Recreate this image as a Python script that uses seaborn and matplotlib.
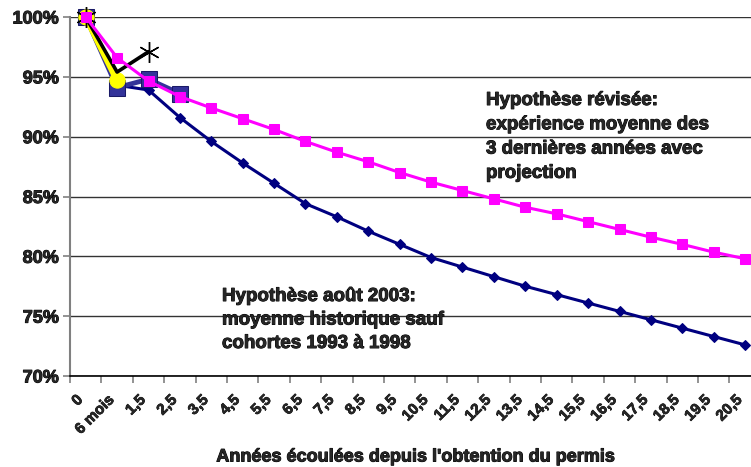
import matplotlib
matplotlib.use("Agg")
import matplotlib.pyplot as plt
import matplotlib.transforms as mtransforms
import matplotlib.patheffects as pe
import seaborn as sns
import pandas as pd
import numpy as np
from matplotlib.ticker import FuncFormatter, FixedLocator

categories = ["0", "6 mois", "1,5", "2,5", "3,5", "4,5", "5,5", "6,5", "7,5", "8,5", "9,5",
              "10,5", "11,5", "12,5", "13,5", "14,5", "15,5", "16,5", "17,5", "18,5", "19,5", "20,5"]

hyp_2003 = [100.0, 94.3, 93.9, 91.6, 89.6, 87.8, 86.1, 84.4, 83.3, 82.1, 81.0,
            79.9, 79.1, 78.3, 77.5, 76.8, 76.1, 75.4, 74.7, 74.0, 73.3, 72.6]
hyp_revisee = [100.0, 96.6, 94.65, 93.35, 92.4, 91.5, 90.6, 89.6, 88.7, 87.9, 87.0,
               86.2, 85.5, 84.8, 84.1, 83.55, 82.9, 82.25, 81.6, 81.0, 80.35, 79.8]
exp_blue = [100.0, 94.1, 94.8, 93.6]
exp_yellow = [100.0, 94.7]
exp_black = [100.0, 95.4, 97.1]

annot_revisee = "Hypothèse révisée:\nexpérience moyenne des\n3 dernières années avec\nprojection"
annot_2003 = "Hypothèse août 2003:\nmoyenne historique sauf\ncohortes 1993 à 1998"
x_label = "Années écoulées depuis l'obtention du permis"

sns.set_style("white")
plt.rcParams["font.family"] = ["Liberation Sans", "DejaVu Sans"]
plt.rcParams["font.weight"] = "bold"

heavy = [pe.withStroke(linewidth=0.7, foreground="black")]

W, H = 751, 467
fig = plt.figure(figsize=(W / 100, H / 100), dpi=100)
left, right, top, bottom = 70, 751, 17, 376
ax = fig.add_axes([left / W, 1 - bottom / H, (right - left) / W, (bottom - top) / H])

def df_of(vals):
    return pd.DataFrame({"x": np.arange(len(vals)), "y": vals})

sns.lineplot(data=df_of(hyp_2003), x="x", y="y", ax=ax, color="#000080", lw=2.2,
             marker="D", markersize=5, markerfacecolor="#000080", markeredgecolor="#000080",
             zorder=3, clip_on=False)
sns.lineplot(data=df_of(exp_blue), x="x", y="y", ax=ax, color="#333399", lw=3.5,
             marker="s", markersize=11, markerfacecolor="#333399", markeredgecolor="#1a1a66",
             zorder=4, clip_on=False)
sns.lineplot(data=df_of(exp_yellow), x="x", y="y", ax=ax, color="#FFFF00", lw=4.5,
             marker="o", markersize=11, markerfacecolor="#FFFF00", markeredgecolor="#FFFF00",
             zorder=5, clip_on=False)
sns.lineplot(data=df_of(exp_black), x="x", y="y", ax=ax, color="black", lw=2.6,
             marker=(6, 2, 0), markersize=15, markeredgecolor="black", markeredgewidth=1.0,
             markevery=[0, 2], zorder=6, clip_on=False)
sns.lineplot(data=df_of(hyp_revisee), x="x", y="y", ax=ax, color="#FF00FF", lw=2.2,
             marker="s", markersize=6.5, markerfacecolor="#FF00FF", markeredgecolor="#FF00FF",
             zorder=7, clip_on=False)

cat_w = 31.4
ax.set_xlim(-0.5, -0.5 + (right - left) / cat_w)
ax.set_ylim(70, 100)

ax.set_yticks(np.arange(70, 101, 5))
ax.yaxis.set_major_formatter(FuncFormatter(lambda v, p: f"{int(round(v))}%"))
ax.tick_params(axis="y", which="major", length=5, width=1.2, color="#808080",
               pad=3, direction="out", left=True, labelsize=13)
for t in ax.get_yticklabels():
    t.set_fontweight("bold")
    t.set_path_effects(heavy)

ax.set_xticks(np.arange(len(categories)))
ax.set_xticklabels(categories, rotation=45, ha="right", rotation_mode="anchor",
                   fontsize=11, fontweight="bold")
ax.tick_params(axis="x", which="major", length=0, pad=12)
offset = mtransforms.ScaledTranslation(-10 / 100, 0, fig.dpi_scale_trans)
for t in ax.get_xticklabels():
    t.set_transform(t.get_transform() + offset)
    t.set_path_effects([pe.withStroke(linewidth=0.5, foreground="black")])
ax.xaxis.set_minor_locator(FixedLocator(np.arange(len(categories) + 1) - 0.5))
ax.tick_params(axis="x", which="minor", length=5, width=1.2, color="#808080",
               direction="out", bottom=True)

ax.grid(axis="y", color="#333333", lw=1)
ax.set_axisbelow(True)
for s in ["top", "right"]:
    ax.spines[s].set_visible(False)
ax.spines["left"].set_color("#808080")
ax.spines["left"].set_linewidth(1.5)
ax.spines["bottom"].set_color("black")
ax.spines["bottom"].set_linewidth(1.2)
ax.set_ylabel("")
ax.set_xlabel("")

fig.text(415 / W, 1 - 457 / H, x_label, ha="center", va="center",
         fontsize=13, fontweight="bold", path_effects=heavy)

fig.text(486 / W, 1 - 92 / H, annot_revisee, ha="left", va="top",
         fontsize=13.5, fontweight="bold", linespacing=1.56, path_effects=heavy)
fig.text(222 / W, 1 - 288 / H, annot_2003, ha="left", va="top",
         fontsize=13.5, fontweight="bold", linespacing=1.5, path_effects=heavy)

fig.savefig("out.png", dpi=100)
